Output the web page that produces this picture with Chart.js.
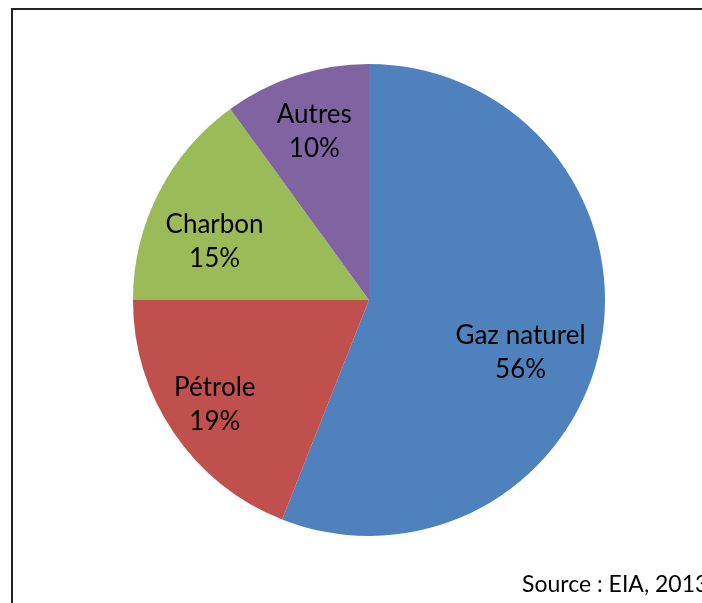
<!DOCTYPE html>
<html>
<head>
<meta charset="utf-8">
<script src="https://cdn.jsdelivr.net/npm/chart.js@4.4.0/dist/chart.umd.min.js"></script>
<style>
  html, body { margin: 0; padding: 0; background: #fff; overflow: hidden; }
  canvas { display: block; }
</style>
</head>
<body>
<canvas id="c" width="702" height="603"></canvas>
<script>
const categories = ["Gaz naturel", "Pétrole", "Charbon", "Autres"];
const shares = [56, 19, 15, 10];
const colors = ["#4F81BD", "#C0504D", "#9BBB59", "#8064A2"];
const sourceText = "Source : EIA, 2013";

// label placement: fraction of radius and angle shift (degrees)
const labelRadius = [0.68, 0.79, 0.70, 0.75];
const labelAngleShift = [8.4, 0, -6.2, 0];

const FONT = "Lato, 'Open Sans', sans-serif";

const framePlugin = {
  id: 'frame',
  beforeDraw(chart) {
    const ctx = chart.ctx;
    ctx.save();
    ctx.fillStyle = '#fff';
    ctx.fillRect(0, 0, 702, 603);
    ctx.strokeStyle = '#222';
    ctx.lineWidth = 2;
    ctx.beginPath();
    ctx.moveTo(12, 603);
    ctx.lineTo(12, 9);
    ctx.lineTo(702, 9);
    ctx.stroke();
    ctx.restore();
  }
};

const labelPlugin = {
  id: 'pieLabels',
  afterDatasetsDraw(chart) {
    const ctx = chart.ctx;
    const meta = chart.getDatasetMeta(0);
    ctx.save();
    ctx.fillStyle = '#000';
    ctx.font = '26px ' + FONT;
    ctx.textAlign = 'center';
    ctx.textBaseline = 'middle';
    meta.data.forEach((arc, i) => {
      const p = arc.getProps(['x', 'y', 'startAngle', 'endAngle', 'outerRadius'], true);
      const mid = (p.startAngle + p.endAngle) / 2 + labelAngleShift[i] * Math.PI / 180;
      const r = p.outerRadius * labelRadius[i];
      const x = p.x + Math.cos(mid) * r;
      const y = p.y + Math.sin(mid) * r;
      ctx.fillText(categories[i], x, y - 17);
      ctx.fillText(shares[i] + '%', x, y + 17);
    });
    ctx.textAlign = 'left';
    ctx.textBaseline = 'alphabetic';
    ctx.font = '23px ' + FONT;
    ctx.fillStyle = '#000';
    ctx.fillText(sourceText, 522, 592);
    // keep the right margin clean
    ctx.fillStyle = '#fff';
    ctx.fillRect(680, 11, 22, 550);
    ctx.restore();
  }
};

new Chart(document.getElementById('c'), {
  type: 'pie',
  data: {
    labels: categories,
    datasets: [{
      data: shares,
      backgroundColor: colors,
      borderWidth: 0,
      hoverOffset: 0
    }]
  },
  options: {
    responsive: false,
    animation: false,
    layout: { padding: { left: 133, right: 97, top: 64, bottom: 67 } },
    plugins: { legend: { display: false }, tooltip: { enabled: false } },
    events: []
  },
  plugins: [framePlugin, labelPlugin]
});
</script>
</body>
</html>
